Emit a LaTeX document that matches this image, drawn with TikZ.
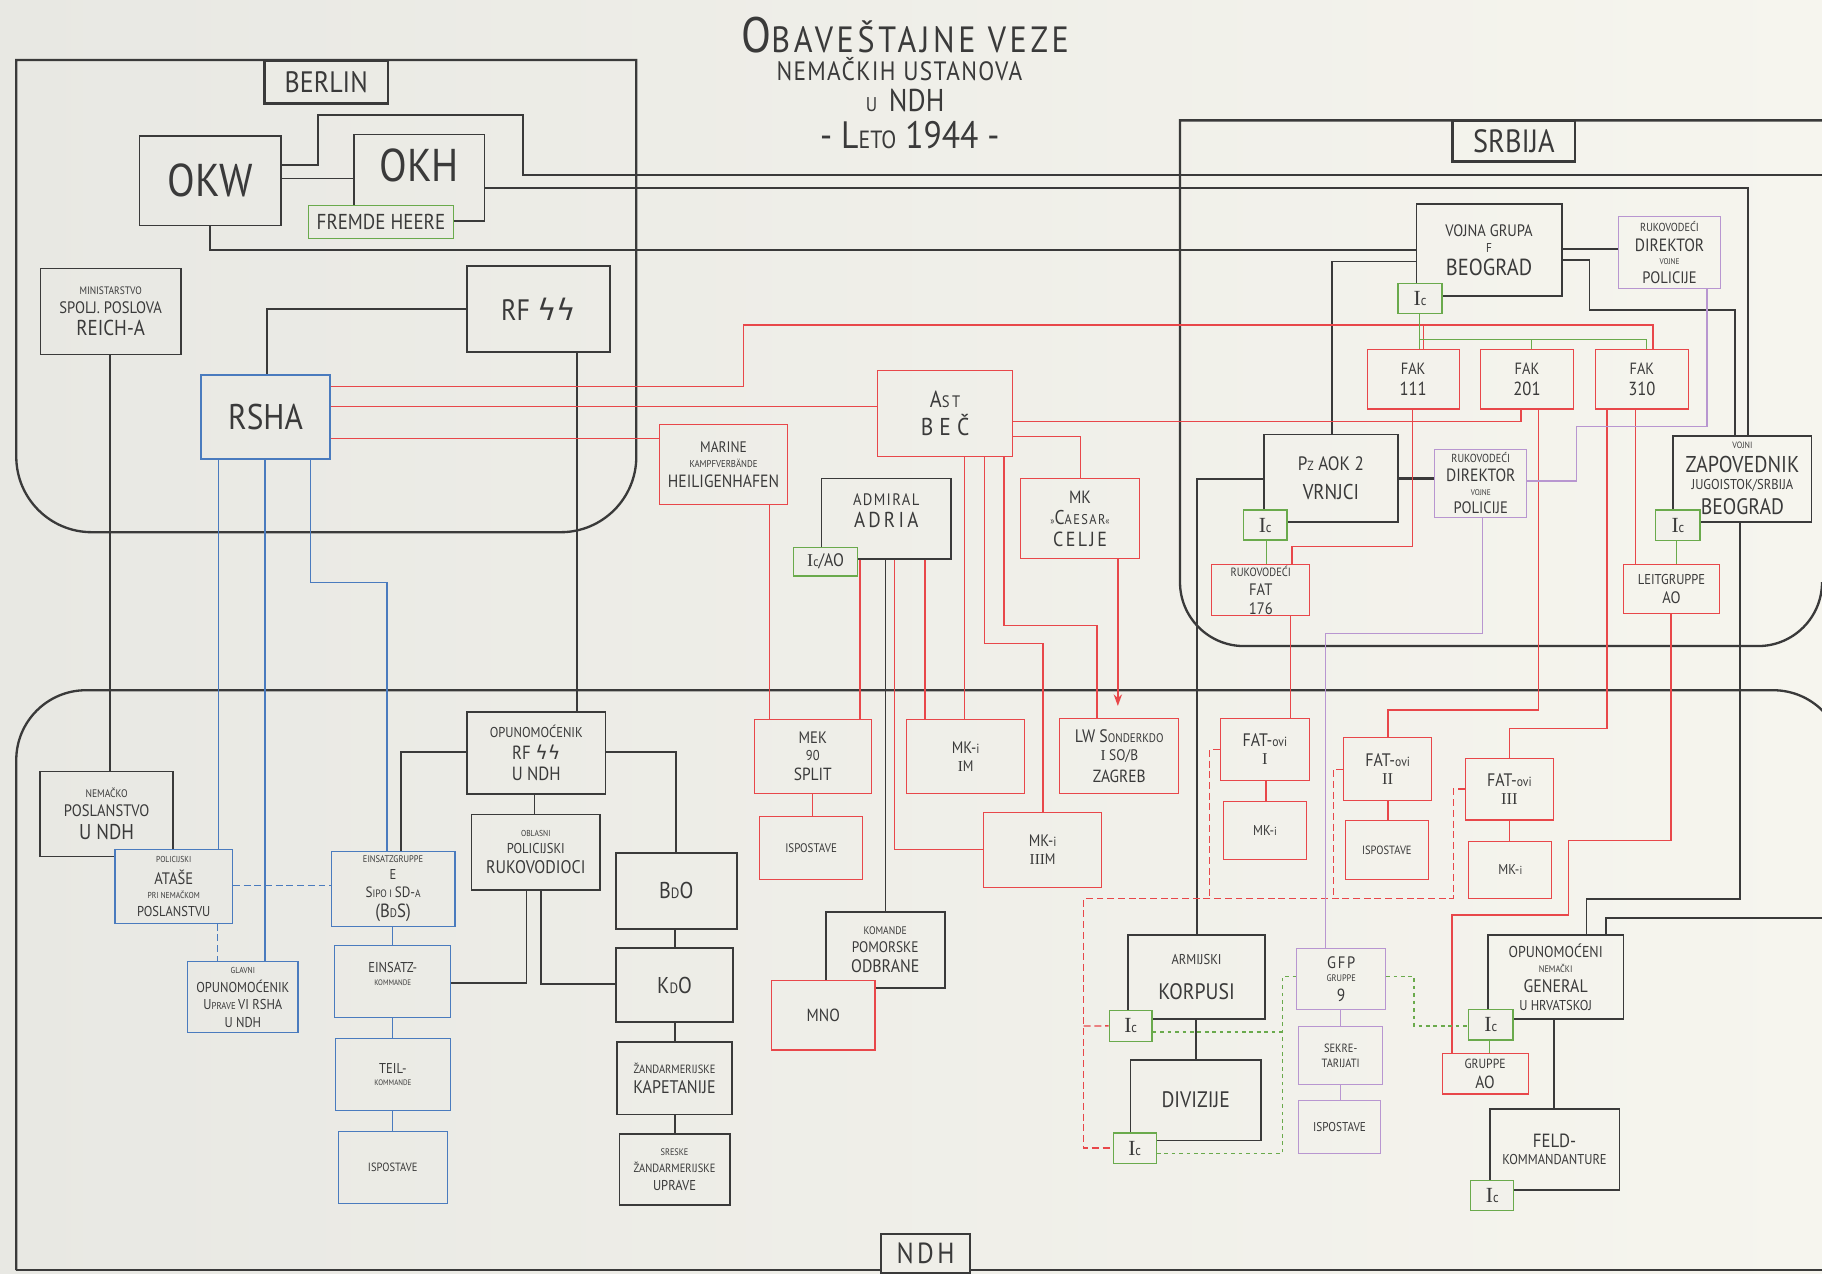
\documentclass[tikz,border=0pt]{standalone}
\usepackage{fontspec}
\setmainfont{PT Sans}[FakeStretch=0.88]
\newfontfamily\djv{DejaVu Sans}
\newfontfamily\srf{Liberation Serif}
\usetikzlibrary{arrows.meta}
\definecolor{bgL}{HTML}{E8E8E3}
\definecolor{bgR}{HTML}{F6F5EE}
\colorlet{paper}{bgR!70!bgL}
\definecolor{ink}{HTML}{3A3A3A}
\definecolor{redl}{HTML}{E8474A}
\definecolor{bluel}{HTML}{4A7BBE}
\definecolor{greenl}{HTML}{6AAA4C}
\definecolor{purpl}{HTML}{B896D0}
\newcommand\cp[1]{\fontsize{\fpeval{0.714*#1}}{\fpeval{0.714*#1}}\selectfont}
\newcommand\lsp[1]{\addfontfeature{LetterSpace=#1}}
\newcommand\nodefont{\fontsize{4}{1}\selectfont\lineskiplimit=0pt\lineskip=3pt}
\newcommand\bx[7]{\node[#6, minimum width={(#4-#2)*0.5pt}, minimum height={(#5-#3)*0.5pt}] (#1) at ({(#2+#4)/2},{(#3+#5)/2}) {#7};}
\newcommand\icx{{\cp{13}{\srf I}{\cp{8.5}c}}}
\begin{document}
\begin{tikzpicture}[x=0.5pt,y=-0.5pt,
 boxk/.style={draw=ink,line width=0.7pt,inner sep=0pt,align=center,text=ink,font=\nodefont},
 boxr/.style={boxk,draw=redl,line width=0.45pt},
 boxb/.style={boxk,draw=bluel,line width=0.5pt},
 boxbf/.style={boxb,fill=bgR!10!bgL},
 boxrf/.style={boxr,fill=bgR!45!bgL},
 boxg/.style={boxk,draw=greenl,line width=0.55pt,fill=paper},
 boxp/.style={boxk,draw=purpl,line width=0.45pt},
 boxl/.style={boxk,line width=1pt},
 region/.style={draw=ink,line width=1pt},
 lnk/.style={draw=ink,line width=0.75pt},
 lnr/.style={draw=redl,line width=0.6pt},
 lnrd/.style={lnr,dash pattern=on 3pt off 1.6pt},
 lnb/.style={draw=bluel,line width=0.55pt},
 lnbd/.style={lnb,dash pattern=on 3pt off 1.6pt},
 lng/.style={draw=greenl,line width=0.6pt},
 lngd/.style={lng,dash pattern=on 1.6pt off 1.6pt},
 lnp/.style={draw=purpl,line width=0.55pt},
 ttl/.style={anchor=base,text=ink,inner sep=0pt}]
\useasboundingbox (0,0) rectangle (1568,1096);
\clip (0,0) rectangle (1568,1096);
\shade[left color=bgL,right color=bgR] (0,0) rectangle (1568,1096);

% ---------- regions ----------
\draw[region] (14,51.6) -- (547.6,51.6) -- (547.6,393) arc[start angle=0,end angle=90,radius=65]
  -- (79,458) arc[start angle=90,end angle=180,radius=65] -- cycle;
\draw[region] (1580,103.6) -- (1015.5,103.6) -- (1015.5,501) arc[start angle=180,end angle=90,radius=55]
  -- (1513,556) arc[start angle=90,end angle=0,radius=55];
\draw[region] (14,1093) -- (14,654) arc[start angle=180,end angle=270,radius=60]
  -- (1526,594) arc[start angle=270,end angle=360,radius=60];
\draw[region] (14,1093) -- (1580,1093);

% ---------- title ----------
\node[ttl] (t1) at (779,45) {\lsp{10}{\cp{30}O}{\cp{22}BAVEŠTAJNE VEZE}};
\node[ttl] (t2) at (774,69) {\lsp{5}\cp{16}NEMAČKIH USTANOVA};
\node[ttl] (t3) at (779,96) {{\cp{12}U}\hspace{5pt}{\cp{19}NDH}};
\node[ttl] (t4) at (783,128) {{\cp{23}- L}{\cp{15}ETO}{\cp{23} 1944 -}};

% ---------- region labels ----------
\bx{berlinlbl}{227.5}{52}{334}{89}{boxl,fill=bgR!20!bgL}{{\cp{17.8}BERLIN}}
\bx{srbijalbl}{1250}{103.6}{1355.6}{139}{boxl,fill=bgR!82!bgL}{{\cp{19.4}SRBIJA}}
\bx{ndhlbl}{758}{1062}{835}{1095.5}{boxl,fill=bgR!50!bgL}{{\lsp{12}\cp{17.5}NDH}}

% ---------- Berlin ----------
\bx{okw}{120}{116.8}{242}{194}{boxk}{{\cp{27.7}OKW}}
\bx{okh}{304.7}{115.8}{417}{190}{boxk}{{\cp{27.7}OKH}\\[10pt]}
\bx{fremde}{265.7}{176.7}{390}{205}{boxg,fill=bgR!21!bgL}{{\cp{13}FREMDE HEERE}}
\bx{minist}{35}{231}{155.5}{305}{boxk}{{\cp{6.5}MINISTARSTVO}\\{\cp{10}SPOLJ. POSLOVA}\\{\cp{13}REICH-A}}
\bx{rfss}{402}{229}{525}{302.7}{boxk}{{\cp{17.8}RF {\djv ϟϟ}}}
\bx{rsha}{173}{322.7}{284}{395}{boxb}{{\cp{21.5}RSHA}}

% ---------- middle ----------
\bx{ast}{755}{319}{871.6}{392.7}{boxr}{{\lsp{15}{\cp{14}A}{\cp{10}ST}}\\{\lsp{25}\cp{14.7}BEČ}}
\bx{marine}{567.3}{365.7}{678}{434}{boxr}{{\cp{9.2}MARINE}\\{\cp{6}KAMPFVERBÄNDE}\\{\cp{10.7}HEILIGENHAFEN}}
\bx{adria}{707}{411.8}{818.3}{481}{boxk}{{\lsp{8}\cp{10}ADMIRAL}\\{\lsp{15}\cp{13}ADRIA}\\[6pt]}
\bx{icao}{683}{471}{738}{495.6}{boxg,fill=bgR!45!bgL}{{\cp{10.9}{\srf I}{\cp{8}c}/AO}}
\bx{caesar}{878}{411.6}{981}{481}{boxr}{{\cp{10.7}MK}\\{\lsp{10}{\cp{6}»}{\cp{12}C}{\cp{8.5}AESAR}{\cp{6}«}}\\{\lsp{12}\cp{12.3}CELJE}}
\bx{mek}{649}{619}{750}{683}{boxr}{{\cp{10}MEK}\\{\cp{8.6}90}\\{\cp{10.6}SPLIT}}
\bx{isp1}{654}{703}{742}{757}{boxr}{{\cp{7.5}ISPOSTAVE}}
\bx{mkim}{780}{619}{882}{683}{boxr}{{\cp{10}MK-}{\cp{8}i}\\{\cp{9.2}{\srf I}M}}
\bx{lw}{912}{618}{1014.5}{683}{boxr}{{\cp{10.9}LW S}{\cp{7.5}ONDERKDO}\\{\cp{9.2}{\srf I} SO/B}\\{\cp{10.6}ZAGREB}}
\bx{mkiiim}{846.6}{699}{948}{763.6}{boxr}{{\cp{10}MK-}{\cp{8}i}\\{\cp{9.2}{\srf III}M}}
\bx{kpo}{710.6}{785}{813}{850}{boxk}{{\cp{6.6}KOMANDE}\\{\cp{9.2}POMORSKE}\\{\cp{10.9}ODBRANE}}
\bx{mno}{664}{843.5}{753}{903.6}{boxrf}{{\cp{10.6}MNO}}

% ---------- NDH left ----------
\bx{nemacko}{34.5}{664}{149}{737}{boxk}{{\cp{6.6}NEMAČKO}\\{\cp{10}POSLANSTVO}\\{\cp{12.9}U NDH}}
\bx{atase}{99}{731}{200}{794.5}{boxbf}{{\cp{5.2}POLICIJSKI}\\{\cp{10}ATAŠE}\\{\cp{5.2}PRI NEMAČKOM}\\{\cp{8.6}POSLANSTVU}}
\bx{einsgr}{285}{733}{391.6}{797}{boxb}{{\cp{5.8}EINSATZGRUPPE}\\{\cp{8.6}E}\\{\cp{9}S}{\cp{6.5}IPO I }{\cp{9}SD-}{\cp{6.5}A}\\{\cp{11.5}(B}{\cp{7.5}D}{\cp{11.5}S)}}
\bx{glavni}{161.6}{827.6}{256.4}{888.7}{boxb}{{\cp{5.2}GLAVNI}\\{\cp{8.6}OPUNOMOĆENIK}\\{\cp{8.6}U}{\cp{6}PRAVE }{\cp{8.6}VI RSHA}\\{\cp{8.6}U NDH}}
\bx{einskom}{288}{814}{388}{876}{boxb}{{\cp{8.6}EINSATZ-}\\{\cp{4.8}KOMMANDE}\\[6pt]}
\bx{teilkom}{288.7}{893.5}{387.6}{956}{boxb}{{\cp{8.6}TEIL-}\\{\cp{4.8}KOMMANDE}}
\bx{isp2}{291}{973.4}{385}{1036}{boxb}{{\cp{7.2}ISPOSTAVE}}
\bx{opunrf}{402}{612.5}{521}{683.5}{boxk}{{\cp{8.6}OPUNOMOĆENIK}\\{\cp{11.5}RF {\djv ϟϟ}}\\{\cp{11.5}U NDH}}
\bx{oblasni}{405.8}{701}{516.4}{766}{boxk}{{\cp{5.2}OBLASNI}\\{\cp{8.6}POLICIJSKI}\\{\cp{11}RUKOVODIOCI}}
\bx{bdo}{530}{734}{634}{799.5}{boxk}{{\cp{13.8}B}{\cp{9}D}{\cp{13.8}O}}
\bx{kdo}{530}{816}{631}{879.5}{boxk}{{\cp{13.8}K}{\cp{9}D}{\cp{13.8}O}}
\bx{zandkap}{531}{896.5}{630}{959}{boxk}{{\cp{7.2}ŽANDARMERIJSKE}\\{\cp{11}KAPETANIJE}}
\bx{sreske}{533}{976}{628}{1037}{boxk}{{\cp{5.7}SRESKE}\\{\cp{7.2}ŽANDARMERIJSKE}\\{\cp{8.6}UPRAVE}}

% ---------- Srbija ----------
\bx{vojna}{1219}{175.8}{1344}{255}{boxk}{{\cp{10}VOJNA GRUPA}\\{\cp{7.7}F}\\{\cp{14}BEOGRAD}}
\bx{icvg}{1203}{244}{1241}{270}{boxg}{\icx}
\bx{dir1}{1392.6}{186.6}{1481}{248}{boxp}{{\cp{7}RUKOVODEĆI}\\{\cp{10.7}DIREKTOR}\\{\cp{5}VOJNE}\\{\cp{10}POLICIJE}}
\bx{fak111}{1176.6}{300.6}{1255.7}{352}{boxr}{{\cp{9.8}FAK}\\{\cp{11.4}111}}
\bx{fak201}{1273.7}{300.6}{1354.5}{352}{boxr}{{\cp{9.8}FAK}\\{\cp{11.4}201}}
\bx{fak310}{1373}{300.6}{1453}{352}{boxr}{{\cp{9.8}FAK}\\{\cp{11.4}310}}
\bx{pzaok}{1087.7}{374}{1203}{449}{boxk}{{\cp{11.7}P}{\cp{8}Z}{\cp{11.7} AOK 2}\\[3pt]{\cp{12.9}VRNJCI}}
\bx{icpz}{1070}{439}{1107.6}{464.7}{boxg}{\icx}
\bx{dir2}{1234.7}{386.6}{1314}{445}{boxp}{{\cp{7}RUKOVODEĆI}\\{\cp{10.7}DIREKTOR}\\{\cp{5}VOJNE}\\{\cp{10}POLICIJE}}
\bx{vojni}{1440}{375}{1559}{449}{boxk}{{\cp{5.5}VOJNI}\\{\cp{13.8}ZAPOVEDNIK}\\{\cp{8.6}JUGOISTOK/SRBIJA}\\{\cp{13.5}BEOGRAD}}
\bx{icvz}{1425}{439}{1463}{465}{boxg}{\icx}
\bx{fat176}{1043}{486}{1127}{530}{boxr}{{\cp{7.2}RUKOVODEĆI}\\{\cp{10}FAT}\\{\cp{10}176}}
\bx{leit}{1397}{485.4}{1480}{527.7}{boxr}{{\cp{8.6}LEITGRUPPE}\\{\cp{10}AO}}

% ---------- NDH right ----------
\bx{fat1}{1050}{618}{1127}{672}{boxr}{{\cp{10.9}FAT-}{\cp{8}ovi}\\{\cp{10}{\srf I}}}
\bx{mki1}{1052.6}{689.5}{1124.7}{739.5}{boxr}{{\cp{8.6}MK-}{\cp{7}i}}
\bx{fat2}{1156.5}{635}{1232}{689}{boxr}{{\cp{10.9}FAT-}{\cp{8}ovi}\\{\cp{10}{\srf II}}}
\bx{isp3}{1158}{706}{1229}{757}{boxr}{{\cp{7.2}ISPOSTAVE}}
\bx{fat3}{1261}{652.5}{1337}{705.7}{boxr}{{\cp{10.9}FAT-}{\cp{8}ovi}\\{\cp{10}{\srf III}}}
\bx{mki3}{1264}{724}{1335.5}{773}{boxr}{{\cp{8.6}MK-}{\cp{7}i}}
\bx{korpusi}{971}{804.6}{1088.5}{877}{boxk}{{\cp{8.6}ARMIJSKI}\\[5pt]{\cp{13.5}KORPUSI}}
\bx{ickor}{954.6}{869.8}{991.5}{896}{boxg}{\icx}
\bx{divizije}{973}{912}{1085}{981.6}{boxk}{{\cp{13.5}DIVIZIJE}}
\bx{icdiv}{958}{975}{995}{1001}{boxg}{\icx}
\bx{gfp}{1116}{816}{1192.4}{869}{boxp}{{\lsp{10}\cp{10}GFP}\\{\cp{5.7}GRUPPE}\\{\cp{10.6}9}}
\bx{sekre}{1117.5}{883.5}{1190}{933.7}{boxp}{{\cp{7.2}SEKRE-}\\{\cp{7.2}TARIJATI}}
\bx{isp4}{1117.5}{947}{1188}{993}{boxp}{{\cp{7.7}ISPOSTAVE}}
\bx{general}{1280.6}{804.6}{1397}{877}{boxk}{{\cp{9.5}OPUNOMOĆENI}\\{\cp{5.7}NEMAČKI}\\{\cp{10.9}GENERAL}\\{\cp{8.6}U HRVATSKOJ}}
\bx{icgen}{1264}{869}{1302}{895}{boxg}{\icx}
\bx{gruppeao}{1241}{907}{1315}{941.5}{boxr}{{\cp{8}GRUPPE}\\{\cp{10.6}AO}}
\bx{feld}{1282}{954.5}{1393.6}{1024}{boxk}{{\cp{11.5}FELD-}\\{\cp{8.6}KOMMANDANTURE}}
\bx{icfeld}{1265.7}{1016}{1302.7}{1042}{boxg}{\icx}

\coordinate (eastA) at (1580,150.5);
\coordinate (eastB) at (1580,790);

% ---------- black connectors ----------
\draw[lnk] (okw.east |- 0,142) -- (273.8,142) -- (273.8,99) -- (450,99) -- (450,150.5) -- (eastA);
\draw[lnk] (okw.east |- 0,153.6) -- (okh.west |- 0,153.6);
\draw[lnk] (okh.east |- 0,162) -- (1504,162) -- (vojni.north -| 1504,0);
\draw[lnk] (okw.south -| 180.8,0) -- (180.8,215) -- (vojna.west |- 0,215);
\draw[lnk] (minist.south -| 94.5,0) -- (nemacko.north -| 94.5,0);
\draw[lnk] (rfss.west |- 0,265.8) -- (230,265.8) -- (rsha.north -| 230,0);
\draw[lnk] (rfss.south -| 496.7,0) -- (opunrf.north -| 496.7,0);
\draw[lnk] (opunrf.west |- 0,647) -- (345,647) -- (einsgr.north -| 345,0);
\draw[lnk] (opunrf.east |- 0,647) -- (582,647) -- (bdo.north -| 582,0);
\draw[lnk] (opunrf.south -| 460,0) -- (oblasni.north -| 460,0);
\draw[lnk] (oblasni.south -| 453,0) -- (453,846) -- (einskom.east |- 0,846);
\draw[lnk] (oblasni.south -| 465.5,0) -- (465.5,847) -- (kdo.west |- 0,847);
\draw[lnk] (bdo.south -| 581,0) -- (kdo.north -| 581,0);
\draw[lnk] (kdo.south -| 581,0) -- (zandkap.north -| 581,0);
\draw[lnk] (zandkap.south -| 581,0) -- (sreske.north -| 581,0);
\draw[lnk] (adria.south -| 762,0) -- (kpo.north -| 762,0);
\draw[lnk] (vojna.west |- 0,225) -- (1146,225) -- (pzaok.north -| 1146,0);
\draw[lnk] (vojna.east |- 0,214) -- (dir1.west |- 0,214);
\draw[lnk] (vojna.east |- 0,224) -- (1368,224) -- (1368,266.8) -- (1493,266.8) -- (vojni.north -| 1493,0);
\draw[lnk] (pzaok.west |- 0,412) -- (1030,412) -- (korpusi.north -| 1030,0);
\draw[lnk,line width=1.4pt] (pzaok.east |- 0,412) -- (dir2.west |- 0,412);
\draw[lnk] (korpusi.south -| 1029,0) -- (divizije.north -| 1029,0);
\draw[lnk] (vojni.south -| 1497.6,0) -- (1497.6,773.7) -- (1365.4,773.7) -- (general.north -| 1365.4,0);
\draw[lnk] (eastB) -- (1382,790) -- (general.north -| 1382,0);
\draw[lnk] (general.south -| 1337.5,0) -- (feld.north -| 1337.5,0);

% ---------- red connectors ----------
\draw[lnr] (rsha.east |- 0,332.5) -- (640,332.5) -- (640,279.6) -- (1422.6,279.6) -- (fak310.north -| 1422.6,0);
\draw[lnr] (1225,279.6) -- (fak111.north -| 1225,0);
\draw[lnr] (rsha.east |- 0,350) -- (ast.west |- 0,350);
\draw[lnr] (rsha.east |- 0,377.4) -- (marine.west |- 0,377.4);
\draw[lnr] (ast.east |- 0,362.6) -- (1309,362.6) -- (fak201.south -| 1309,0);
\draw[lnr] (ast.east |- 0,375.5) -- (930,375.5) -- (caesar.north -| 930,0);
\draw[lnr] (ast.south -| 830,0) -- (mkim.north -| 830,0);
\draw[lnr] (ast.south -| 847,0) -- (847,554) -- (897.5,554) -- (mkiiim.north -| 897.5,0);
\draw[lnr] (ast.south -| 864,0) -- (864,538.5) -- (944,538.5) -- (lw.north -| 944,0);
\draw[lnr,-{Stealth[length=5pt,width=3.6pt]},shorten >=5pt] (caesar.south -| 962,0) -- (lw.north -| 962,0);
\draw[lnr] (marine.south -| 662,0) -- (mek.north -| 662,0);
\draw[lnr] (adria.south -| 740,0) -- (mek.north -| 740,0);
\draw[lnr] (adria.south -| 770,0) -- (770,731) -- (mkiiim.west |- 0,731);
\draw[lnr] (adria.south -| 796,0) -- (mkim.north -| 796,0);
\draw[lnr] (mek.south -| 699,0) -- (isp1.north -| 699,0);
\draw[lnr] (fak111.south -| 1215.7,0) -- (1215.7,470.5) -- (1112,470.5) -- (fat176.north -| 1112,0);
\draw[lnr] (fak201.south -| 1324,0) -- (1324,611) -- (1194.6,611) -- (fat2.north -| 1194.6,0);
\draw[lnr] (fak310.south -| 1383,0) -- (1383,626.7) -- (1299,626.7) -- (fat3.north -| 1299,0);
\draw[lnr] (fak310.south -| 1407.7,0) -- (leit.north -| 1407.7,0);
\draw[lnr] (fat176.south -| 1110.7,0) -- (fat1.north -| 1110.7,0);
\draw[lnr] (fat1.south -| 1089.6,0) -- (mki1.north -| 1089.6,0);
\draw[lnr] (fat2.south -| 1194.6,0) -- (isp3.north -| 1194.6,0);
\draw[lnr] (fat3.south -| 1299,0) -- (mki3.north -| 1299,0);
\draw[lnr] (leit.south -| 1438,0) -- (1438,723.5) -- (1349.6,723.5) -- (1349.6,787.5) -- (1249.6,787.5) -- (gruppeao.north -| 1249.6,0);

% ---------- red dashed ----------
\draw[lnrd] (fat3.west) -| (1250.8,773) -- (932.6,773) |- (icdiv.west);
\draw[lnrd] (fat1.west) -| (1040.8,773);
\draw[lnrd] (fat2.west) -| (1147.7,773);
\draw[lnrd] (932.6,883) -- (ickor.west);

% ---------- green ----------
\draw[lng] (icvg.south -| 1221.7,0) -- (1221.7,292) -- (fak111.north -| 1221.7,0);
\draw[lng] (1221.7,292) -- (1417,292) -- (fak310.north -| 1417,0);
\draw[lng] (1318,292) -- (fak201.north -| 1318,0);
\draw[lng] (icpz.south -| 1090,0) -- (fat176.north -| 1090,0);
\draw[lng] (icvz.south -| 1443,0) -- (leit.north -| 1443,0);
\draw[lng] (icgen.south -| 1282,0) -- (gruppeao.north -| 1282,0);
\draw[lngd] (ickor.east |- 0,888) -- (1103.6,888);
\draw[lngd] (icdiv.east |- 0,992.5) -- (1103.6,992.5) -- (1103.6,840.5) -- (gfp.west |- 0,840.5);
\draw[lngd] (gfp.east |- 0,840.5) -- (1217,840.5) -- (1217,883) -- (icgen.west |- 0,883);

% ---------- purple ----------
\draw[lnp] (dir1.south -| 1469,0) -- (1469,367) -- (1356.6,367) -- (1356.6,414) -- (dir2.east |- 0,414);
\draw[lnp] (dir2.south -| 1275.6,0) -- (1275.6,545) -- (1140.6,545) -- (gfp.north -| 1140.6,0);
\draw[lnp] (gfp.south -| 1153.6,0) -- (sekre.north -| 1153.6,0);
\draw[lnp] (sekre.south -| 1153.6,0) -- (isp4.north -| 1153.6,0);

% ---------- blue ----------
\draw[lnb] (rsha.south -| 188,0) -- (atase.north -| 188,0);
\draw[lnb] (rsha.south -| 228,0) -- (glavni.north -| 228,0);
\draw[lnb] (rsha.south -| 267.5,0) -- (267.5,501.5) -- (333,501.5) -- (einsgr.north -| 333,0);
\draw[lnb] (einsgr.south -| 338,0) -- (einskom.north -| 338,0);
\draw[lnb] (einskom.south -| 338,0) -- (teilkom.north -| 338,0);
\draw[lnb] (teilkom.south -| 338,0) -- (isp2.north -| 338,0);
\draw[lnbd] (atase.east |- 0,762) -- (einsgr.west |- 0,762);
\draw[lnbd] (atase.south -| 187,0) -- (glavni.north -| 187,0);
\end{tikzpicture}
\end{document}
